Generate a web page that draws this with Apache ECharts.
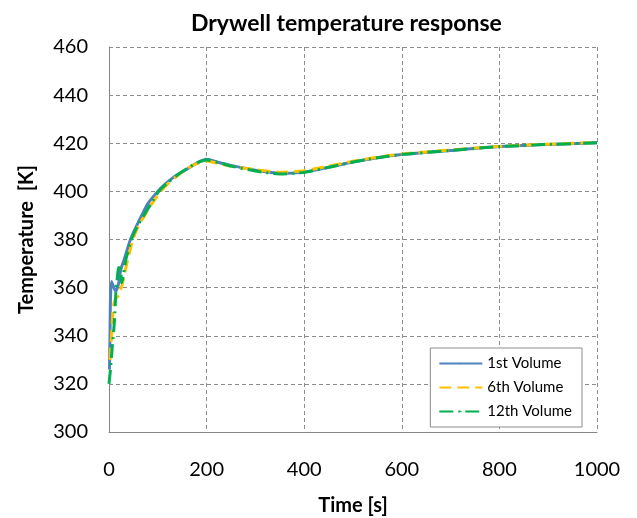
<!DOCTYPE html>
<html>
<head>
<meta charset="utf-8">
<script src="https://cdn.jsdelivr.net/npm/echarts@6/dist/echarts.min.js"></script>
<style>
  html, body { margin: 0; padding: 0; background: #fff; }
  #chart { width: 637px; height: 518px; }
</style>
</head>
<body>
<div id="chart"></div>
<script>
// Data
const seriesNames = ['1st Volume', '6th Volume', '12th Volume'];

const vol1Time = [1, 2, 3, 5, 8, 14, 20, 24, 30, 44, 55, 66, 80, 100, 115, 130, 145, 162, 180, 200, 225, 250, 300, 350, 400, 450, 500, 550, 600, 700, 800, 900, 1000];
const vol1Temp = [326, 340, 355, 362.5, 361, 358.5, 362, 367.4, 371, 380, 385, 389.6, 395, 400, 403, 405.5, 407.5, 409.5, 411.8, 413.3, 412, 410.8, 408.8, 407.5, 408, 410, 412.2, 414, 415.3, 417, 418.6, 419.5, 420.2];

const vol6Time = [2, 4, 6, 9, 12, 16, 19, 22, 26, 30, 40, 49, 60, 72, 85, 106, 120, 140, 160, 180, 200, 225, 250, 300, 350, 400, 450, 500, 550, 600, 700, 800, 900, 1000];
const vol6Temp = [330, 336, 343, 352, 354.5, 356, 356.5, 358.5, 360.5, 364, 373, 380, 385.5, 389.6, 394, 400, 403, 406.5, 409.5, 411.5, 412.6, 411.5, 410.5, 409, 408, 408.6, 410.5, 412.5, 414.2, 415.5, 417.2, 418.7, 419.6, 420.3];

const vol12Time = [0, 3, 5, 7, 10, 12, 14, 16, 19, 23, 26, 35, 46, 58, 70, 85, 102, 120, 140, 160, 180, 200, 225, 250, 300, 350, 400, 450, 500, 550, 600, 700, 800, 900, 1000];
const vol12Temp = [320, 326, 331, 336, 343, 349, 358, 362, 367.5, 369.5, 362, 372, 380, 385.5, 389.6, 394.5, 400, 403.5, 406.8, 409.5, 411.8, 413, 412, 410.5, 408.5, 407.2, 407.9, 410, 412.2, 414, 415.3, 417, 418.6, 419.5, 420.2];

const xTicks = { min: 0, max: 1000, interval: 200 };
const yTicks = { min: 300, max: 460, interval: 20 };

function pairs(t, v) { return t.map((x, i) => [x, v[i]]); }

const FONT = 'Lato, "Open Sans", sans-serif';
const chart = echarts.init(document.getElementById('chart'));
chart.setOption({
  animation: false,
  backgroundColor: '#ffffff',
  title: {
    text: 'Drywell temperature response',
    left: 186,
    top: 7,
    textStyle: { fontFamily: FONT, fontSize: 23, fontWeight: 'bold', color: '#000' }
  },
  grid: { left: 109, right: 40, top: 47, bottom: 86, outerBoundsMode: 'none', containLabel: false },
  legend: {
    orient: 'vertical',
    right: 55,
    top: 348,
    itemWidth: 43,
    itemHeight: 2,
    itemGap: 9,
    padding: [8, 10, 8, 8],
    backgroundColor: '#fff',
    borderColor: '#8c8c8c',
    borderWidth: 1,
    textStyle: { fontFamily: FONT, fontSize: 15, color: '#000', lineHeight: 15 },
    data: seriesNames
  },
  xAxis: {
    type: 'value',
    min: xTicks.min, max: xTicks.max, interval: xTicks.interval,
    name: 'Time [s]',
    nameLocation: 'middle',
    nameGap: 64,
    nameTextStyle: { fontFamily: FONT, fontSize: 20, fontWeight: 'bold', color: '#000' },
    axisLine: { lineStyle: { color: '#868686', width: 1 } },
    axisTick: { show: false },
    axisLabel: { fontFamily: FONT, fontSize: 20, color: '#000', margin: 28, formatter: v => String(v) },
    splitLine: { show: true, lineStyle: { color: '#8c8c8c', type: [4, 3], width: 1 } }
  },
  yAxis: {
    type: 'value',
    min: yTicks.min, max: yTicks.max, interval: yTicks.interval,
    name: 'Temperature  [K]',
    nameLocation: 'middle',
    nameGap: 72,
    nameTextStyle: { fontFamily: FONT, fontSize: 20, fontWeight: 'bold', color: '#000' },
    axisLine: { show: true, lineStyle: { color: '#868686', width: 1 } },
    axisTick: { show: false },
    axisLabel: { fontFamily: FONT, fontSize: 20, color: '#000', margin: 21 },
    splitLine: { show: true, lineStyle: { color: '#8c8c8c', type: [4, 3], width: 1 } }
  },
  series: [
    {
      name: seriesNames[0], type: 'line', showSymbol: false, symbol: 'none', smooth: 0.25,
      data: pairs(vol1Time, vol1Temp),
      lineStyle: { color: '#4F81BD', width: 3 }, itemStyle: { color: '#4F81BD' }
    },
    {
      name: seriesNames[1], type: 'line', showSymbol: false, symbol: 'none', smooth: 0.25,
      data: pairs(vol6Time, vol6Temp),
      lineStyle: { color: '#FFC000', width: 3, type: [12, 6] }, itemStyle: { color: '#FFC000' }
    },
    {
      name: seriesNames[2], type: 'line', showSymbol: false, symbol: 'none', smooth: 0.25,
      data: pairs(vol12Time, vol12Temp),
      lineStyle: { color: '#00B050', width: 3, type: [14, 5, 2, 5] }, itemStyle: { color: '#00B050' }
    }
  ]
});
</script>
</body>
</html>
